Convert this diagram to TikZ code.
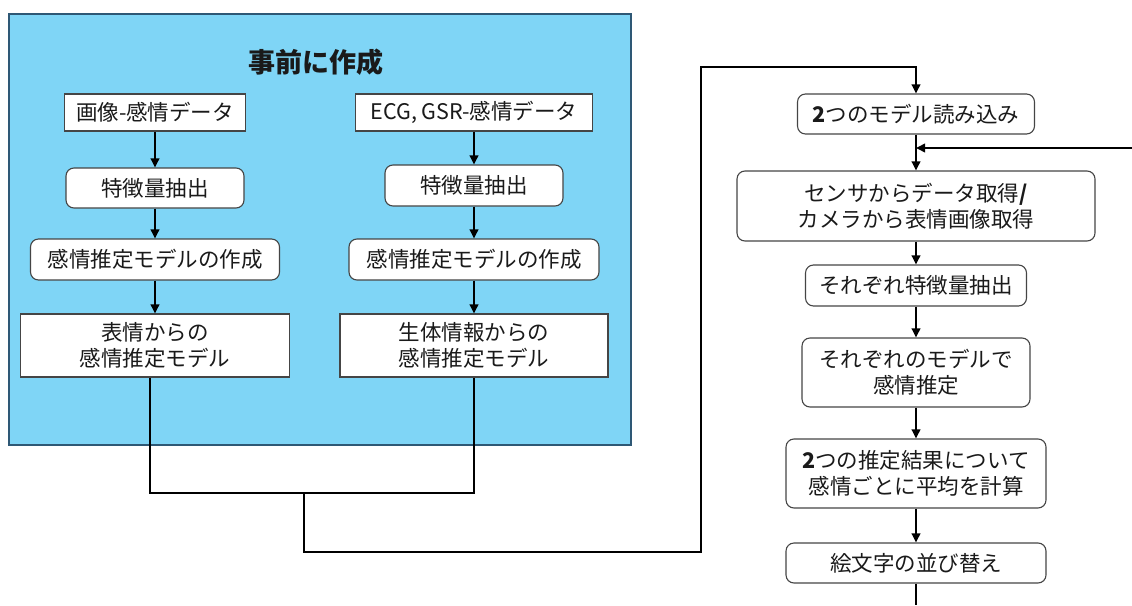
\documentclass[tikz,border=0pt]{standalone}
\usepackage{fontspec}
\setmainfont{Noto Sans CJK JP}
\usetikzlibrary{arrows.meta}
\definecolor{panelblue}{HTML}{7FD5F6}
\definecolor{panelborder}{HTML}{2E5875}
\definecolor{boxborder}{HTML}{454545}
\definecolor{txt}{HTML}{1A1A1A}
\begin{document}
\begin{tikzpicture}[x=1pt,y=-1pt,
  base/.style={draw=boxborder,line width=1.1pt,fill=white,text=txt,inner sep=0pt,align=center,
    font=\fontsize{21.5}{26}\selectfont},
  sqbox/.style={base},
  rbox/.style={base,rounded corners=8pt},
  conn/.style={draw=black,line width=2pt},
  arr/.style={conn,-{Triangle[length=9pt,width=8.5pt]}}]
\useasboundingbox (0,0) rectangle (1132,605);
% panel
\node[draw=panelborder,fill=panelblue,line width=1.4pt,minimum width=622pt,minimum height=431pt,inner sep=0pt] (panel) at (320,229.5) {};
\node[text=txt,font=\fontsize{27}{30}\selectfont\bfseries] (title) at (316,62) {事前に作成};
% left column
\node[sqbox,minimum width=181pt,minimum height=37pt] (L1) at (155,112.5) {画像-感情データ};
\node[rbox,minimum width=178pt,minimum height=40pt] (L2) at (155,188) {特徴量抽出};
\node[rbox,minimum width=249pt,minimum height=41pt] (L3) at (155,259.5) {感情推定モデルの作成};
\node[sqbox,minimum width=269pt,minimum height=63pt] (L4) at (155,345.5) {表情からの\\感情推定モデル};
% right column
\node[sqbox,minimum width=237pt,minimum height=37pt] (R1) at (474,112.5) {ECG, GSR-感情データ};
\node[rbox,minimum width=178pt,minimum height=41pt] (R2) at (474,185.5) {特徴量抽出};
\node[rbox,minimum width=250pt,minimum height=41pt] (R3) at (474,259.5) {感情推定モデルの作成};
\node[sqbox,minimum width=268pt,minimum height=63pt] (R4) at (474,345.5) {生体情報からの\\感情推定モデル};
% flow on the right
\node[rbox,minimum width=237pt,minimum height=40pt] (F1) at (916,114) {\textbf{2}つのモデル読み込み};
\node[rbox,minimum width=358pt,minimum height=70pt] (F2) at (916,206) {センサからデータ取得\textbf{/}\\カメラから表情画像取得};
\node[rbox,minimum width=221pt,minimum height=41pt] (F3) at (916,285.5) {それぞれ特徴量抽出};
\node[rbox,minimum width=228pt,minimum height=69pt] (F4) at (916,372.5) {それぞれのモデルで\\感情推定};
\node[rbox,minimum width=260pt,minimum height=69pt] (F5) at (916,473.5) {\textbf{2}つの推定結果について\\感情ごとに平均を計算};
\node[rbox,minimum width=260pt,minimum height=40pt] (F6) at (916,563) {絵文字の並び替え};
% coordinates
\coordinate (j1) at (150,493);
\coordinate (j2) at (474,493);
\coordinate (j3) at (304,493);
\coordinate (c1) at (304,552);
\coordinate (c2) at (701,552);
\coordinate (c3) at (701,67);
\coordinate (c4) at (916,67);
\coordinate (fb) at (1132,148);
\coordinate (fbend) at (916,148);
\coordinate (bottom) at (916,605);
% arrows inside panel
\draw[arr] (L1) -- (L2);
\draw[arr] (L2) -- (L3);
\draw[arr] (L3) -- (L4);
\draw[arr] (R1) -- (R2);
\draw[arr] (R2) -- (R3);
\draw[arr] (R3) -- (R4);
% merge
\draw[conn] (L4.south -| j1) -- (j1) -- (j2) -- (R4.south -| j2);
\draw[arr] (j3) -- (c1) -- (c2) -- (c3) -- (c4) -- (F1.north);
% right flow
\draw[arr] (F1) -- (F2);
\draw[arr] (fb) -- (fbend);
\draw[arr] (F2) -- (F3);
\draw[arr] (F3) -- (F4);
\draw[arr] (F4) -- (F5);
\draw[arr] (F5) -- (F6);
\draw[conn] (F6) -- (bottom);
\end{tikzpicture}
\end{document}
